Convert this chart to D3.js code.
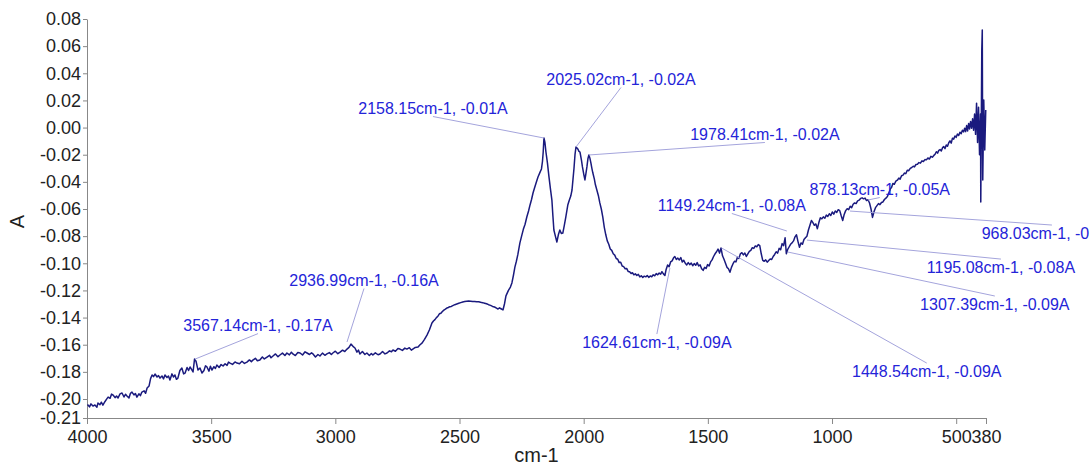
<!DOCTYPE html>
<html lang="en">
<head>
<meta charset="utf-8">
<title>IR spectrum</title>
<script src="https://cdn.jsdelivr.net/npm/d3@7"></script>
<style>
  body { margin: 0; background: #fff; }
  svg { display: block; font-family: "Liberation Sans", Arial, sans-serif; }
  .axis path, .axis line { stroke: #888; }
  .axis text { fill: #222; font-size: 18px; font-family: "Liberation Sans", Arial, sans-serif; }
</style>
</head>
<body>
<div id="chart"></div>
<script>
// spectrum: [cm-1, A]
const spectrum = [
  [3998, -0.2040], [3990, -0.2058], [3984, -0.2036], [3976, -0.2052], [3968, -0.2044],
  [3960, -0.2060], [3956, -0.2030], [3948, -0.2042], [3942, -0.2024], [3936, -0.2045],
  [3928, -0.2020], [3921, -0.2001], [3915, -0.1986], [3907, -0.1995], [3901, -0.1964],
  [3895, -0.1971], [3887, -0.1990], [3881, -0.1978], [3875, -0.1993], [3867, -0.1962],
  [3859, -0.1956], [3851, -0.1985], [3845, -0.1965], [3839, -0.1978], [3831, -0.1992],
  [3825, -0.1958], [3819, -0.1949], [3811, -0.1970], [3805, -0.1960], [3799, -0.1986],
  [3791, -0.1962], [3785, -0.1975], [3779, -0.1949], [3770, -0.1940], [3764, -0.1958],
  [3758, -0.1919], [3750, -0.1904], [3744, -0.1850], [3738, -0.1823], [3732, -0.1835],
  [3726, -0.1816], [3718, -0.1838], [3712, -0.1828], [3706, -0.1846], [3698, -0.1830],
  [3692, -0.1852], [3686, -0.1823], [3678, -0.1842], [3672, -0.1831], [3666, -0.1860],
  [3658, -0.1815], [3652, -0.1838], [3646, -0.1823], [3640, -0.1855], [3634, -0.1846],
  [3626, -0.1790], [3618, -0.1772], [3611, -0.1815], [3605, -0.1809], [3597, -0.1768],
  [3591, -0.1790], [3585, -0.1764], [3579, -0.1782], [3573, -0.1801], [3567, -0.1706],
  [3561, -0.1722], [3553, -0.1787], [3545, -0.1772], [3537, -0.1809], [3529, -0.1790],
  [3523, -0.1756], [3517, -0.1764], [3509, -0.1795], [3503, -0.1758], [3497, -0.1787],
  [3489, -0.1762], [3483, -0.1775], [3477, -0.1750], [3468, -0.1768], [3460, -0.1746],
  [3452, -0.1757], [3444, -0.1740], [3436, -0.1752], [3430, -0.1728], [3424, -0.1735],
  [3414, -0.1745], [3404, -0.1727], [3396, -0.1735], [3386, -0.1740], [3376, -0.1722],
  [3366, -0.1738], [3356, -0.1728], [3346, -0.1712], [3338, -0.1725], [3332, -0.1713],
  [3322, -0.1700], [3314, -0.1718], [3304, -0.1713], [3294, -0.1690], [3286, -0.1705],
  [3275, -0.1691], [3265, -0.1678], [3259, -0.1696], [3251, -0.1683], [3241, -0.1668],
  [3231, -0.1688], [3223, -0.1676], [3213, -0.1662], [3203, -0.1680], [3195, -0.1661],
  [3185, -0.1675], [3177, -0.1655], [3171, -0.1668], [3161, -0.1680], [3151, -0.1658],
  [3142, -0.1661], [3132, -0.1676], [3122, -0.1652], [3114, -0.1661], [3104, -0.1672],
  [3096, -0.1660], [3090, -0.1668], [3080, -0.1690], [3070, -0.1672], [3062, -0.1683],
  [3052, -0.1662], [3042, -0.1678], [3034, -0.1668], [3024, -0.1658], [3016, -0.1672],
  [3010, -0.1661], [3000, -0.1648], [2990, -0.1666], [2981, -0.1654], [2971, -0.1640],
  [2962, -0.1650], [2953, -0.1632], [2945, -0.1620], [2937, -0.1595], [2929, -0.1612],
  [2921, -0.1624], [2913, -0.1655], [2907, -0.1640], [2901, -0.1668], [2891, -0.1650],
  [2881, -0.1672], [2873, -0.1661], [2863, -0.1680], [2855, -0.1665], [2849, -0.1676],
  [2839, -0.1660], [2828, -0.1674], [2820, -0.1668], [2810, -0.1650], [2800, -0.1668],
  [2792, -0.1661], [2782, -0.1645], [2774, -0.1652], [2768, -0.1639], [2758, -0.1648],
  [2748, -0.1628], [2740, -0.1632], [2730, -0.1642], [2720, -0.1625], [2712, -0.1632],
  [2702, -0.1622], [2694, -0.1640], [2688, -0.1632], [2678, -0.1620], [2667, -0.1617],
  [2659, -0.1600], [2651, -0.1588], [2641, -0.1560], [2631, -0.1529], [2621, -0.1490],
  [2611, -0.1440], [2605, -0.1425], [2599, -0.1415], [2593, -0.1400], [2587, -0.1390],
  [2581, -0.1372], [2575, -0.1368], [2569, -0.1355], [2563, -0.1345], [2557, -0.1338],
  [2551, -0.1330], [2545, -0.1326], [2539, -0.1320], [2533, -0.1318], [2527, -0.1312],
  [2519, -0.1305], [2511, -0.1300], [2503, -0.1295], [2495, -0.1290], [2487, -0.1285],
  [2479, -0.1282], [2471, -0.1280], [2463, -0.1278], [2455, -0.1279], [2447, -0.1281],
  [2439, -0.1282], [2431, -0.1284], [2423, -0.1283], [2415, -0.1287], [2407, -0.1290],
  [2399, -0.1294], [2391, -0.1298], [2383, -0.1305], [2375, -0.1310], [2367, -0.1318],
  [2359, -0.1322], [2351, -0.1330], [2345, -0.1337], [2339, -0.1328], [2333, -0.1335],
  [2325, -0.1344], [2319, -0.1300], [2313, -0.1240], [2303, -0.1200], [2295, -0.1175],
  [2289, -0.1145], [2283, -0.1090], [2277, -0.1028], [2271, -0.0985], [2265, -0.0935],
  [2257, -0.0851], [2250, -0.0800], [2243, -0.0750], [2236, -0.0712], [2229, -0.0659],
  [2222, -0.0615], [2216, -0.0570], [2210, -0.0530], [2204, -0.0482], [2198, -0.0445],
  [2192, -0.0410], [2184, -0.0364], [2176, -0.0330], [2170, -0.0305], [2166, -0.0250],
  [2163, -0.0180], [2160, -0.0077], [2156, -0.0110], [2152, -0.0180], [2146, -0.0260],
  [2140, -0.0360], [2134, -0.0450], [2128, -0.0534], [2124, -0.0650], [2120, -0.0755],
  [2114, -0.0800], [2108, -0.0843], [2102, -0.0790], [2096, -0.0755], [2090, -0.0780],
  [2084, -0.0777], [2078, -0.0720], [2072, -0.0660], [2064, -0.0571], [2058, -0.0535],
  [2052, -0.0505], [2047, -0.0460], [2043, -0.0380], [2039, -0.0300], [2035, -0.0200],
  [2031, -0.0143], [2027, -0.0150], [2023, -0.0160], [2019, -0.0175], [2015, -0.0180],
  [2009, -0.0240], [2005, -0.0290], [1999, -0.0350], [1995, -0.0386], [1991, -0.0340],
  [1987, -0.0290], [1983, -0.0230], [1979, -0.0202], [1975, -0.0225], [1971, -0.0260],
  [1967, -0.0300], [1963, -0.0335], [1957, -0.0380], [1953, -0.0420], [1947, -0.0460],
  [1941, -0.0500], [1935, -0.0555], [1929, -0.0600], [1923, -0.0660], [1917, -0.0735],
  [1911, -0.0790], [1905, -0.0835], [1899, -0.0860], [1893, -0.0895], [1887, -0.0905],
  [1881, -0.0930], [1875, -0.0940], [1869, -0.0965], [1863, -0.0970], [1857, -0.0995],
  [1851, -0.0992], [1845, -0.1020], [1839, -0.1025], [1833, -0.1040], [1827, -0.1038],
  [1821, -0.1060], [1815, -0.1062], [1809, -0.1075], [1803, -0.1070], [1798, -0.1085],
  [1792, -0.1078], [1786, -0.1090], [1780, -0.1082], [1774, -0.1100], [1768, -0.1092],
  [1762, -0.1104], [1756, -0.1095], [1750, -0.1100], [1744, -0.1090], [1738, -0.1104],
  [1732, -0.1093], [1726, -0.1099], [1720, -0.1085], [1714, -0.1092], [1708, -0.1076],
  [1702, -0.1085], [1696, -0.1072], [1690, -0.1080], [1685, -0.1062], [1679, -0.1078],
  [1673, -0.1090], [1668, -0.1045], [1662, -0.1012], [1656, -0.1025], [1650, -0.0990],
  [1644, -0.0982], [1638, -0.0960], [1633, -0.0950], [1627, -0.0972], [1621, -0.0962],
  [1615, -0.0975], [1609, -0.0958], [1603, -0.0990], [1597, -0.0978], [1591, -0.1000],
  [1585, -0.1012], [1579, -0.0995], [1573, -0.1010], [1567, -0.0998], [1561, -0.1018],
  [1555, -0.1002], [1549, -0.1015], [1543, -0.0995], [1537, -0.1020], [1531, -0.1012],
  [1525, -0.1040], [1519, -0.1052], [1513, -0.1030], [1507, -0.1038], [1501, -0.1010],
  [1495, -0.1020], [1489, -0.0990], [1483, -0.0975], [1477, -0.0950], [1471, -0.0930],
  [1465, -0.0915], [1459, -0.0895], [1453, -0.0925], [1447, -0.0888], [1441, -0.0945],
  [1435, -0.0970], [1429, -0.1000], [1423, -0.1030], [1417, -0.1040], [1411, -0.1066],
  [1405, -0.1030], [1399, -0.1005], [1393, -0.0985], [1387, -0.0990], [1381, -0.0955],
  [1375, -0.0965], [1369, -0.0930], [1363, -0.0922], [1357, -0.0938], [1351, -0.0925],
  [1345, -0.0950], [1339, -0.0930], [1333, -0.0912], [1327, -0.0905], [1321, -0.0885],
  [1315, -0.0890], [1309, -0.0872], [1303, -0.0878], [1297, -0.0862], [1291, -0.0870],
  [1285, -0.0930], [1279, -0.0978], [1273, -0.0985], [1267, -0.0975], [1261, -0.0992],
  [1255, -0.0980], [1249, -0.0968], [1243, -0.0972], [1237, -0.0950], [1231, -0.0935],
  [1225, -0.0915], [1219, -0.0925], [1213, -0.0890], [1207, -0.0900], [1201, -0.0855],
  [1195, -0.0870], [1189, -0.0812], [1184, -0.0930], [1179, -0.0900], [1173, -0.0880],
  [1167, -0.0860], [1161, -0.0850], [1155, -0.0835], [1149, -0.0805], [1143, -0.0790],
  [1137, -0.0840], [1131, -0.0882], [1125, -0.0850], [1119, -0.0860], [1113, -0.0825],
  [1107, -0.0812], [1101, -0.0800], [1095, -0.0755], [1089, -0.0720], [1083, -0.0685],
  [1077, -0.0700], [1071, -0.0720], [1065, -0.0710], [1059, -0.0745], [1053, -0.0700],
  [1047, -0.0665], [1041, -0.0672], [1035, -0.0658], [1029, -0.0668], [1023, -0.0645],
  [1017, -0.0655], [1011, -0.0635], [1005, -0.0648], [999, -0.0622], [993, -0.0638],
  [987, -0.0615], [981, -0.0625], [975, -0.0605], [969, -0.0612], [963, -0.0650],
  [957, -0.0685], [951, -0.0640], [945, -0.0612], [939, -0.0598], [933, -0.0605],
  [927, -0.0580], [921, -0.0590], [915, -0.0565], [909, -0.0555], [903, -0.0560],
  [897, -0.0540], [891, -0.0535], [885, -0.0522], [879, -0.0518], [873, -0.0525],
  [867, -0.0520], [861, -0.0538], [855, -0.0532], [849, -0.0556], [843, -0.0600],
  [837, -0.0662], [831, -0.0620], [825, -0.0590], [819, -0.0575], [813, -0.0560],
  [807, -0.0568], [801, -0.0552], [795, -0.0548], [789, -0.0530], [783, -0.0520],
  [777, -0.0508], [771, -0.0480], [765, -0.0452], [760, -0.0440], [755, -0.0412],
  [749, -0.0418], [743, -0.0395], [737, -0.0388], [731, -0.0372], [726, -0.0380],
  [720, -0.0355], [714, -0.0350], [708, -0.0335], [703, -0.0340], [697, -0.0315],
  [691, -0.0318], [685, -0.0300], [679, -0.0294], [673, -0.0285], [668, -0.0290],
  [662, -0.0272], [656, -0.0270], [650, -0.0258], [644, -0.0262], [638, -0.0245],
  [632, -0.0250], [626, -0.0236], [620, -0.0238], [614, -0.0224], [608, -0.0232],
  [602, -0.0212], [596, -0.0218], [590, -0.0205], [585, -0.0196], [580, -0.0178],
  [575, -0.0188], [570, -0.0168], [565, -0.0162], [560, -0.0172], [555, -0.0148],
  [550, -0.0140], [545, -0.0155], [540, -0.0128], [535, -0.0138], [530, -0.0112],
  [525, -0.0098], [520, -0.0115], [515, -0.0078], [510, -0.0085], [505, -0.0062],
  [500, -0.0072], [495, -0.0048], [490, -0.0058], [485, -0.0035], [480, -0.0045],
  [475, -0.0020], [470, -0.0032], [466, -0.0005], [462, -0.0030], [458, 0.0015],
  [454, -0.0025], [450, 0.0030], [446, -0.0010], [442, 0.0045], [438, -0.0005],
  [434, 0.0065], [430, -0.0020], [426, 0.0100], [422, -0.0050], [418, 0.0180],
  [414, -0.0110], [410, 0.0150], [406, -0.0200], [402, 0.0100], [401, -0.0549],
  [397, 0.0572], [395, 0.0719], [393, -0.0386], [389, 0.0203], [385, -0.0165],
  [381, 0.0130]
];

const xTicks = [4000, 3500, 3000, 2500, 2000, 1500, 1000, 500, 380];
const yTicks = [0.08, 0.06, 0.04, 0.02, 0.00, -0.02, -0.04, -0.06, -0.08, -0.10,
                -0.12, -0.14, -0.16, -0.18, -0.20, -0.214];

// peak picks: label text and the spot the leader points at
const peakText = [
  '3567.14cm-1, -0.17A', '2936.99cm-1, -0.16A', '2158.15cm-1, -0.01A',
  '2025.02cm-1, -0.02A', '1978.41cm-1, -0.02A', '1624.61cm-1, -0.09A',
  '1448.54cm-1, -0.09A', '1307.39cm-1, -0.09A', '1149.24cm-1, -0.08A',
  '1195.08cm-1, -0.08A', '968.03cm-1, -0.06A', '878.13cm-1, -0.05A'
];
const peakWn = [3565, 2953, 2160, 2031, 1979, 1653, 1444, 1178, 1182, 1101, 928, 856];
const peakA = [-0.1706, -0.1580, -0.0077, -0.0143, -0.0202, -0.1035, -0.0888, -0.0917, -0.0762, -0.0829, -0.0615, -0.0534];
// label centre offsets from the pointed spot (px)
const labelDx = [63, 17, -111, 45, 176, -13, 205, 207, -55, 194, 202, 12];
const labelDy = [-34, -62, -30, -68, -21, 74, 123, 52, -26, 27, 22, -11];

const width = 1089, height = 467;
const margin = { top: 19, right: 986, bottom: 418, left: 87 };

const svg = d3.select('#chart').append('svg')
  .attr('width', width)
  .attr('height', height);

const x = d3.scaleLinear().domain([4000, 380]).range([margin.left, margin.right]);
const y = d3.scaleLinear().domain([-0.214, 0.08]).range([margin.bottom, margin.top]);

// axes
svg.append('g')
  .attr('class', 'axis')
  .attr('transform', 'translate(0,' + margin.bottom + ')')
  .call(d3.axisBottom(x).tickValues(xTicks).tickSize(6).tickSizeOuter(0).tickPadding(6)
    .tickFormat(d => String(d)));

svg.append('g')
  .attr('class', 'axis')
  .attr('transform', 'translate(' + margin.left + ',0)')
  .call(d3.axisLeft(y).tickValues(yTicks).tickSize(4).tickSizeOuter(0).tickPadding(2)
    .tickFormat(d => d.toFixed(2)));

svg.append('text')
  .text('cm-1')
  .attr('x', (margin.left + margin.right) / 2)
  .attr('y', 462)
  .attr('text-anchor', 'middle')
  .attr('font-size', 20)
  .attr('fill', '#222');

svg.append('text')
  .text('A')
  .attr('transform', 'translate(24,' + ((margin.top + margin.bottom) / 2 + 3) + ') rotate(-90)')
  .attr('text-anchor', 'middle')
  .attr('font-size', 20)
  .attr('fill', '#222');

// spectrum
const line = d3.line().x(d => x(d[0])).y(d => y(d[1]));

svg.append('path')
  .datum(spectrum)
  .attr('d', line)
  .attr('fill', 'none')
  .attr('stroke', '#1a1a7e')
  .attr('stroke-width', 1.5)
  .attr('stroke-linejoin', 'round');

// peak labels with leaders
const peaks = peakText.map((t, i) => ({
  text: t, wn: peakWn[i], a: peakA[i], dx: labelDx[i], dy: labelDy[i]
}));

const ann = svg.append('g');

ann.selectAll('line')
  .data(peaks)
  .enter().append('line')
  .attr('x1', d => x(d.wn) + d.dx)
  .attr('y1', d => y(d.a) + d.dy + (d.dy < 0 ? 8.5 : -8))
  .attr('x2', d => x(d.wn))
  .attr('y2', d => y(d.a))
  .attr('stroke', '#a4a4dc')
  .attr('stroke-width', 1);

ann.selectAll('text')
  .data(peaks)
  .enter().append('text')
  .text(d => d.text)
  .attr('x', d => x(d.wn) + d.dx)
  .attr('y', d => y(d.a) + d.dy + 6)
  .attr('text-anchor', 'middle')
  .attr('font-size', 16)
  .attr('fill', '#2424d8');
</script>
</body>
</html>
